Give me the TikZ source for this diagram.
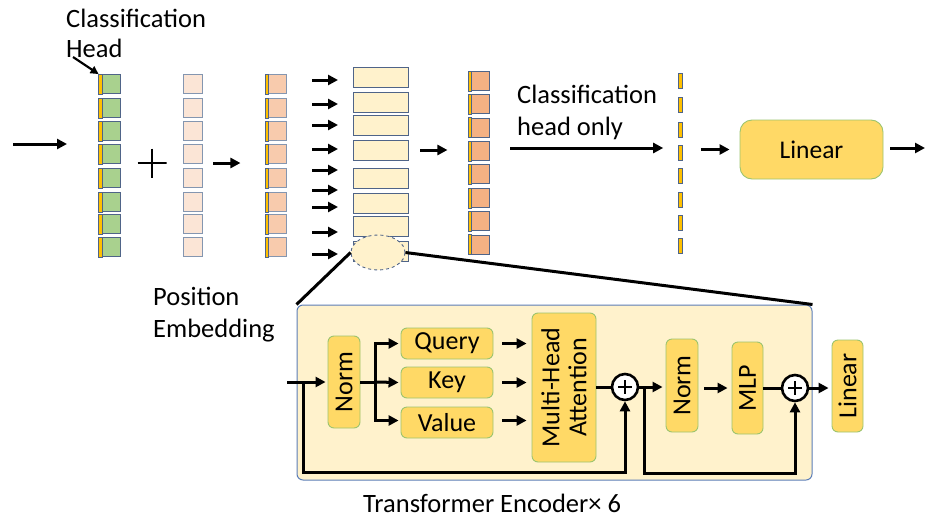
\documentclass[tikz,border=0pt]{standalone}
\usepackage{fontspec}
\setmainfont{Carlito}
\usetikzlibrary{arrows.meta,shapes.geometric}

\definecolor{slate}{HTML}{4F6488}
\definecolor{patchgreen}{HTML}{A9D18E}
\definecolor{posfill}{HTML}{FBE5D6}
\definecolor{posdraw}{HTML}{8496B0}
\definecolor{sumfill}{HTML}{F8CBAD}
\definecolor{outfill}{HTML}{F4B183}
\definecolor{encfill}{HTML}{FFF2CC}
\definecolor{clsyellow}{HTML}{FFC000}
\definecolor{boxfill}{HTML}{FFD966}
\definecolor{boxdraw}{HTML}{9CC46E}
\definecolor{framedraw}{HTML}{5B7DB8}

\tikzset{
  arr/.style={-{Triangle[length=10pt,width=10pt]}, line width=3pt},
  plain/.style={line width=3pt},
  token/.style={draw=slate, line width=0.9pt, minimum width=21, minimum height=19, inner sep=0pt},
  enctoken/.style={draw=slate, fill=encfill, line width=0.9pt, minimum width=55, minimum height=20, inner sep=0pt},
  clsbar/.style={draw=slate, fill=clsyellow, line width=0.6pt, minimum width=4, minimum height=15, inner sep=0pt},
  block/.style={draw=boxdraw, fill=boxfill, line width=0.9pt, rounded corners=6pt, inner sep=0pt},
  vblock/.style={block, rotate=90},
  addop/.style={circle, draw, line width=2.6pt, fill=white, minimum size=26, inner sep=0pt,
    path picture={\draw[line width=2.6pt] (path picture bounding box.center) ++(-7,0) -- ++(14,0)
      (path picture bounding box.center) ++(0,-7) -- ++(0,14);}},
  sumsign/.style={minimum size=29, inner sep=0pt,
    path picture={\draw[line width=2.6pt] (path picture bounding box.west) -- (path picture bounding box.east)
      (path picture bounding box.north) -- (path picture bounding box.south);}},
  lbl/.style={font=\fontsize{26.5}{30}\selectfont, inner sep=0pt},
  boxfont/.style={font=\fontsize{26}{28}\selectfont},
}

\newcommand{\clsstripe}[1]{%
  \draw[fill=clsyellow, draw=slate, line width=0.6pt] (#1.north west) rectangle ([xshift=3.5]#1.south west);}

\begin{document}
\begin{tikzpicture}[x=1pt, y=-1pt]
\useasboundingbox (0,0) rectangle (925,519);

% input arrow
\coordinate (inL) at (13,144);
\coordinate (inR) at (67,144);
\draw[arr] (inL) -- (inR);

% patch tokens with classification stripe
\foreach \y [count=\i] in {84,108,131,154,178,202,224,247} {
  \node[token, fill=patchgreen] (g\i) at (109.5,\y) {};
  \clsstripe{g\i}
}
\node[lbl, anchor=base west] (clsA) at (66,28) {Classification};
\node[lbl, anchor=base west] (clsB) at (66,58) {Head};
\coordinate (clsArrow) at (73,57);
\draw[-{Triangle[length=8pt,width=8pt]}, line width=2.2pt] (clsArrow) -- (g1.north west);

% plus sign between patches and positions
\node[sumsign] (plus) at (152,163) {};

% position embedding tokens
\foreach \y [count=\i] in {84,108,131,154,178,202,224,247} {
  \node[token, fill=posfill, draw=posdraw, minimum width=19] (p\i) at (192.5,\y) {};
}
\draw[arr] ([xshift=11]p5.east |- plus) -- ++(27,0) coordinate (sumin);

\node[lbl, anchor=base west] (posA) at (153,305) {Position};
\node[lbl, anchor=base west] (posB) at (153,337) {Embedding};

% summed tokens
\foreach \y [count=\i] in {84,108,131,154,178,202,224,247} {
  \node[token, fill=sumfill, draw=posdraw] (s\i) at (276,\y) {};
  \clsstripe{s\i}
}

% encoder input arrows
\foreach \y [count=\i] in {80,104,125,149,170,190,207,232,254} {
  \draw[arr] (312,\y) coordinate (ea\i) -- (338,\y);
}

% encoder tokens
\foreach \y [count=\i] in {77,102.5,125.5,150,178,203,226.5,251.5} {
  \node[enctoken] (e\i) at (380.5,\y) {};
}
\node[ellipse, draw=slate, dashed, line width=0.9pt, fill=encfill, minimum width=54, minimum height=35, inner sep=0pt] (zoom) at (378,252.5) {};

\draw[arr] ([xshift=12]e4.east) -- ([xshift=39]e4.east);

% encoder outputs
\foreach \y [count=\i] in {81,104,127.5,151,174,198,221,244.5} {
  \node[token, fill=outfill] (o\i) at (479,\y) {};
  \clsstripe{o\i}
}

\node[lbl, anchor=base west] (hoA) at (517,103) {Classification};
\node[lbl, anchor=base west] (hoB) at (517,135) {head only};
\coordinate (hoL) at (510,148);

% classification head outputs
\foreach \y [count=\i] in {81,105,129.5,152.5,176,199.5,223,246} {
  \node[clsbar] (c\i) at (680.5,\y) {};
}
\draw[arr] (hoL) -- ([xshift=-15]c4.west |- hoL);

% final linear
\node[block, rounded corners=12pt, minimum width=143, minimum height=59, lbl, font=\fontsize{25.5}{30}\selectfont] (lin) at (811.5,149.5) {Linear};
\draw[arr] ([xshift=18]c4.east |- lin) -- ([xshift=-10]lin.west);
\coordinate (outR) at (925,148);
\draw[arr] ([xshift=7]lin.east |- outR) -- (outR);

% encoder block detail
\node[draw=framedraw, fill=encfill, line width=1pt, rounded corners=6pt, minimum width=515, minimum height=175, inner sep=0pt] (encbox) at (554.5,392.5) {};
\draw[plain] (zoom.west) -- (encbox.north west);
\draw[plain] (zoom.east) -- (encbox.north east);

\node[lbl, anchor=base west, font=\fontsize{26.5}{30}\selectfont] (enclabel) at (363,512) {Transformer Encoder× 6};

\begin{scope}[every node/.append style={boxfont}]
\node[vblock, minimum width=92, minimum height=32] (norm1) at (344,382) {Norm};
\node[block, minimum width=92, minimum height=31] (query) at (447,343.5) {Query};
\node[block, minimum width=92, minimum height=31] (key) at (447,382.5) {Key};
\node[block, minimum width=92, minimum height=31] (value) at (447,422.5) {Value};
\node[vblock, minimum width=149, minimum height=64, align=center,
      font=\fontsize{26}{27}\selectfont] (mha) at (564,387.5) {Multi-Head\\Attention};
\node[vblock, minimum width=93, minimum height=32] (norm2) at (682,385.5) {Norm};
\node[vblock, minimum width=92, minimum height=31] (mlp) at (747.5,388) {MLP};
\node[vblock, minimum width=92, minimum height=31] (lin2) at (847.5,386) {Linear};
\end{scope}
\node[addop] (add1) at (625,387) {};
\node[addop] (add2) at (795,388) {};

% input and first residual path
\coordinate (encin) at (287,382);
\coordinate (split1) at (303,382);
\draw[arr] (encin) -- ([xshift=-2]norm1.north);
\draw[arr] (split1) -- (303,472) -| (add1.south);

% norm -> query / key / value
\coordinate (fork) at (375,382);
\draw[plain] (norm1.south) -- (fork);
\draw[arr] ([yshift=0.5]fork) |- ([xshift=-2]query.west);
\draw[arr] (fork) -- ([xshift=-2]key.west);
\draw[arr] ([yshift=-0.5]fork) |- ([xshift=-2,yshift=2]value.west);

% query / key / value -> attention (rotated node: north is its left side)
\draw[arr] ([xshift=9]query.east) -- ([xshift=-5]query.east -| mha.north);
\draw[arr] ([xshift=9]key.east) -- ([xshift=-5]key.east -| mha.north);
\draw[arr] ([xshift=9,yshift=2]value.east) -- ([xshift=-5,yshift=2]value.east -| mha.north);
\draw[plain] (mha.south |- add1) -- (add1.west);

% second half
\coordinate (split2) at (644,387);
\draw[arr] (add1.east) -- ([xshift=-3]norm2.north |- add1);
\draw[arr] (split2) -- (644,473) -| (add2.south);
\draw[arr] ([xshift=6]norm2.south |- mlp) -- ([xshift=-4]mlp.north);
\draw[plain] (mlp.south) -- (add2.west);
\draw[arr] (add2.east) -- ([xshift=-3]lin2.north |- add2);
\end{tikzpicture}
\end{document}
